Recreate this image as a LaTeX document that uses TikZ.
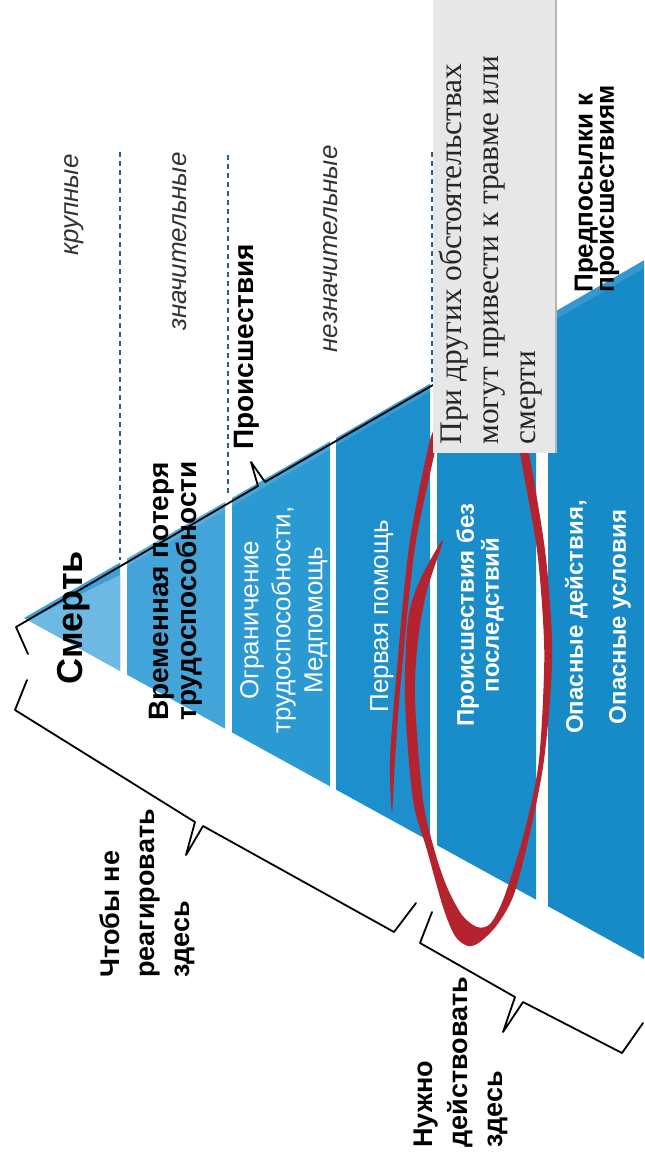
\documentclass[tikz,border=0pt]{standalone}
\usepackage{fontspec}
\setmainfont{Liberation Sans}
\newfontfamily\boxserif{Liberation Serif}

\definecolor{tipblue}{HTML}{6DB9E3}
\definecolor{rimblue}{HTML}{3D9FD6}
\definecolor{layerB}{HTML}{42A4D9}
\definecolor{layerC}{HTML}{2B99D2}
\definecolor{layerD}{HTML}{1C8FCC}
\definecolor{layerE}{HTML}{198CCA}
\definecolor{layerF}{HTML}{178AC8}
\definecolor{dashblue}{HTML}{265F8C}
\definecolor{markred}{HTML}{B5232E}
\definecolor{boxgray}{HTML}{E7E7E7}
\definecolor{boxedge}{HTML}{B4B4B4}

\begin{document}
\begin{tikzpicture}[x=0.5pt, y=-0.5pt,
  dashmark/.style={draw=dashblue, line width=1pt, dash pattern=on 2.5pt off 2pt},
  bracket/.style={draw=black, line width=0.9pt, line join=round, line cap=round},
  rim/.style={fill=white, fill opacity=0.12},
  whitelabel/.style={rotate=90, text=white, align=center, inner sep=1pt},
  blacklabel/.style={rotate=90, text=black, align=left, inner sep=1pt},
  sizelabel/.style={rotate=90, text=black!80, inner sep=1pt,
    font=\itshape\fontsize{13}{15}\selectfont}]

\useasboundingbox (0,0) rectangle (644,1168);

% pyramid layers
\fill[rimblue] (24,618) -- (120,562.6) -- (120,670.8) -- cycle;
\fill[tipblue] (28,620) -- (120,575) -- (120,670.8) -- cycle;
\fill[layerB] (127,558.6) -- (225,502) -- (225,728.6) -- (127,674.7) -- cycle;
\fill[layerC] (232,498) -- (330,441.4) -- (330,786.3) -- (232,732.4) -- cycle;
\fill[layerD] (336,438) -- (430,383.7) -- (430,841.3) -- (336,789.6) -- cycle;
\fill[layerE] (437,379.7) -- (536,322.6) -- (536,899.6) -- (437,845.2) -- cycle;
\fill[layerF] (548,315.7) -- (644,260.3) -- (644,959) -- (548,906.2) -- cycle;

% top rims
\fill[rim] (127,558.6) -- (225,502) -- (225,510) -- (127,566.6) -- cycle;
\fill[rim] (232,498) -- (330,441.4) -- (330,449.4) -- (232,506) -- cycle;
\fill[rim] (336,438) -- (430,383.7) -- (430,391.7) -- (336,446) -- cycle;
\fill[rim] (548,315.7) -- (644,260.3) -- (644,268.3) -- (548,323.7) -- cycle;

% dashed level lines
\draw[dashmark] (120,152) -- (120,560);
\draw[dashmark] (228,155) -- (228,495);
\draw[dashmark] (432,152) -- (432,384);

% brackets
\draw[bracket] (28,654) -- (16,627) -- (258,486) -- (251,462) -- (265,482) -- (433,385);
\draw[bracket] (27,680) -- (15,710) -- (195,822) -- (186,855) -- (203,826) -- (394,932) -- (416,903);
\draw[bracket] (432,912) -- (420,943) -- (515,997) -- (503,1032) -- (523,1002) -- (622,1053) -- (643,1023);

% red marker loop
\fill[markred] plot[smooth cycle, tension=0.5] coordinates {
  (527,445) (545,550) (552,640) (550,700) (544,760) (537,800) (526,850)
  (513,897) (497,925) (480,942) (468,946) (455,936) (443,907) (427,850)
  (413,800) (405,700) (408,620) (420,580) (443,540)
  (427,590) (418,640) (415,700) (423,800) (435,852) (447,887) (462,915)
  (477,927) (490,924) (503,900) (520,848) (532,800) (539,760) (543,700)
  (544,640) (537,550) (519,445)};
\fill[markred] plot[smooth cycle, tension=0.5] coordinates {
  (430,440) (409,547) (396,680) (390,760) (392,813)
  (395,760) (401,680) (415,547) (437,440)};

% note box
\fill[boxgray] (433,0) rectangle (556,453);
\draw[boxedge, line width=1pt] (556,0) -- (556,453);

% layer texts
\node (death) [rotate=90, inner sep=1pt, font=\bfseries\fontsize{18}{20}\selectfont] at (74,618) {Смерть};
\node (temploss) [blacklabel, font=\bfseries\fontsize{14}{11}\selectfont] at (176,591) {Временная потеря\\трудоспособности};
\node (limited) [whitelabel, font=\fontsize{13}{16}\selectfont] at (284,620) {Ограничение\\трудоспособности,\\Медпомощь};
\node (firstaid) [whitelabel, font=\fontsize{13}{15}\selectfont] at (382,616) {Первая помощь};
\node (nearmiss) [whitelabel, font=\bfseries\fontsize{12}{10}\selectfont] at (480,615) {Происшествия без\\последствий};
\node (unsafe) [whitelabel, font=\bfseries\fontsize{12}{21.5}\selectfont] at (598,617) {Опасные действия,\\Опасные условия};

% side texts
\node (incidents) [blacklabel, anchor=west, font=\bfseries\fontsize{14}{16}\selectfont] at (247,452) {Происшествия};
\node (major) [sizelabel, anchor=east] at (74,152) {крупные};
\node (serious) [sizelabel, anchor=east] at (180,150) {значительные};
\node (minor) [sizelabel, anchor=east] at (331,143) {незначительные};
\node (noreact) [blacklabel, anchor=west, font=\bfseries\fontsize{13.5}{17.5}\selectfont] at (147,980) {Чтобы не\\реагировать\\здесь};
\node (acthere) [blacklabel, anchor=west, font=\bfseries\fontsize{13.5}{17.5}\selectfont] at (461,1150) {Нужно\\действовать\\здесь};
\node (precond) [blacklabel, anchor=west, font=\bfseries\fontsize{13}{9.5}\selectfont] at (597,295) {Предпосылки к\\происшествиям};
\node (otherwise) [blacklabel, anchor=west, text=black!85, font=\boxserif\fontsize{15.7}{18.5}\selectfont] at (491,447) {При других обстоятельствах\\могут привести к травме или\\смерти};
\end{tikzpicture}
\end{document}
